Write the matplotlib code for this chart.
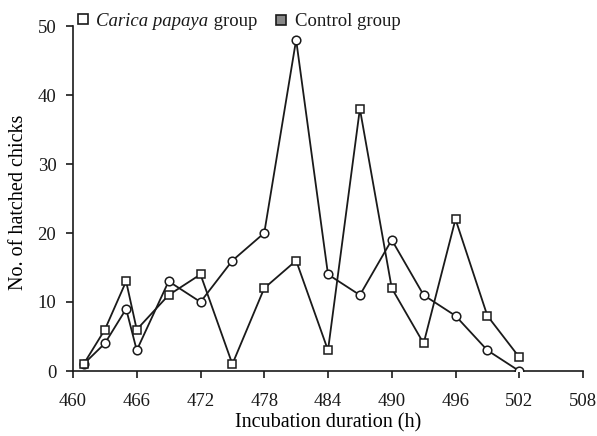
import matplotlib
matplotlib.use("Agg")
import matplotlib.pyplot as plt
from matplotlib.lines import Line2D

plt.rcParams['font.family'] = ['Liberation Serif', 'DejaVu Serif']

# Incubation hours and hatched chick counts
hours = [461, 463, 465, 466, 469, 472, 475, 478, 481, 484, 487, 490, 493, 496, 499, 502]
square_counts = [1, 6, 13, 6, 11, 14, 1, 12, 16, 3, 38, 12, 4, 22, 8, 2]
circle_counts = [1, 4, 9, 3, 13, 10, 16, 20, 48, 14, 11, 19, 11, 8, 3, 0]

x_ticks = [460, 466, 472, 478, 484, 490, 496, 502, 508]
y_ticks = [0, 10, 20, 30, 40, 50]

W, H = 597, 436
fig = plt.figure(figsize=(W / 100, H / 100), dpi=100)
ax = fig.add_axes([73 / W, 1 - 371 / H, 510 / W, 345 / H])

ink = '#1a1a1a'
ax.plot(hours, circle_counts, color=ink, lw=1.3, marker='o', ms=6.2,
        mfc='white', mec=ink, mew=1.1, zorder=3)
ax.plot(hours, square_counts, color=ink, lw=1.3, marker='s', ms=6.0,
        mfc='white', mec=ink, mew=1.1, zorder=4)

ax.set_xlim(460, 508)
ax.set_ylim(0, 50)
ax.set_xticks(x_ticks)
ax.set_yticks(y_ticks)
ax.tick_params(direction='out', length=5, width=1.2, labelsize=13.5, colors=ink)
ax.tick_params(axis='x', pad=11)
ax.tick_params(axis='y', pad=7)
for side in ['top', 'right']:
    ax.spines[side].set_visible(False)
for side in ['left', 'bottom']:
    ax.spines[side].set_linewidth(1.2)
    ax.spines[side].set_color(ink)

ax.set_xlabel('Incubation duration (h)', fontsize=14.5, labelpad=2)
ax.set_ylabel('No. of hatched chicks', fontsize=14.5)
ax.yaxis.set_label_coords(-0.088, 0.49)

# legend drawn by hand along the top edge
def px(x, y):
    return x / W, 1 - y / H

for (mx, my), face in [((82.8, 19.5), 'white'), ((281, 20.5), '#888888')]:
    fx, fy = px(mx, my)
    fig.add_artist(Line2D([fx], [fy], transform=fig.transFigure, ls='none',
                          marker='s', ms=6.5, mfc=face, mec=ink, mew=1.2))

t1 = fig.text(*px(96.5, 26.5), 'Carica papaya', style='italic', fontsize=13.5,
              va='baseline', ha='left', color=ink)
ax.annotate(' group', xy=(1, 0), xycoords=t1, va='bottom', ha='left',
            fontsize=13.5, color=ink)
fig.text(*px(295, 26.5), 'Control group', fontsize=13.5, va='baseline',
         ha='left', color=ink)

fig.savefig('out.png', dpi=100)
